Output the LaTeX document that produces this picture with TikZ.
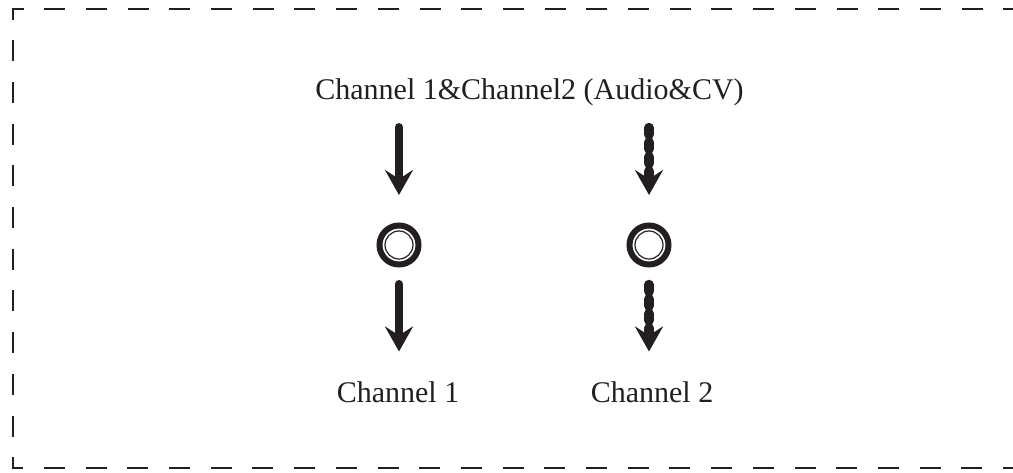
\documentclass[tikz,border=0pt]{standalone}
\usepackage{fontspec}
\setmainfont{Liberation Serif}
\usetikzlibrary{arrows.meta}
\definecolor{ink}{RGB}{35,31,32}
\begin{document}
\begin{tikzpicture}[x=1pt,y=-1pt,
	txt/.style={text=ink, inner sep=0pt, font=\fontsize{30}{36}\selectfont},
	jack/.style={circle, draw=ink, line width=6pt, minimum size=39pt, inner sep=0pt},
	solidarrow/.style={draw=ink, line width=8pt, line cap=round, -{Stealth[length=25pt,width=28pt,inset=9pt]}},
	beadarrow/.style={solidarrow, line width=9.5pt, dash pattern=on 7pt off 7.5pt}]
	\useasboundingbox (0,0) rectangle (1013,472);
	\draw [ink, line width=2.5pt, dash pattern=on 21pt off 20.7pt, dash phase=11.3pt] (1013,9) -- (13,9) -- (13,468) -- (1013,468);
	\node [txt, anchor=base] (src) at (529.5,99) {Channel 1\&Channel2 (Audio\&CV)};
	\node [jack] (jackA) at (399,245) {};
	\node [jack] (jackB) at (649,245) {};
	\draw [ink, line width=1.2pt] (jackA) circle [radius=14pt];
	\draw [ink, line width=1.2pt] (jackB) circle [radius=14pt];
	\node [txt, anchor=base] (outA) at (398,402) {Channel 1};
	\node [txt, anchor=base] (outB) at (652,402) {Channel 2};
	\draw [solidarrow, shorten <=21.5pt, shorten >=27.5pt] (src.south -| jackA) -- (jackA.north);
	\draw [beadarrow, shorten <=22pt, shorten >=27.5pt] (src.south -| jackB) -- (jackB.north);
	\draw [solidarrow, shorten <=16.5pt, shorten >=29.5pt] (jackA.south) -- (outA.north -| jackA);
	\draw [beadarrow, shorten <=17pt, shorten >=29.5pt] (jackB.south) -- (outB.north -| jackB);
\end{tikzpicture}
\end{document}
